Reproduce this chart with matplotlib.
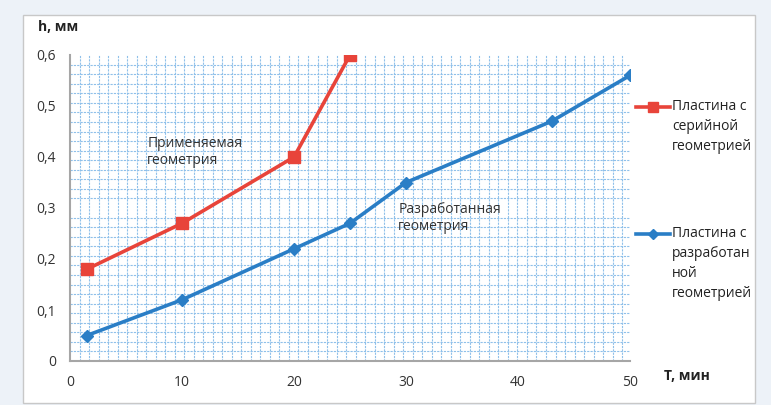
import numpy as np
import matplotlib.pyplot as plt
from matplotlib.patches import Rectangle
from matplotlib.lines import Line2D
from matplotlib.ticker import MultipleLocator, FuncFormatter

plt.rcParams['font.family'] = ['Open Sans', 'DejaVu Sans']

# данные
t_serial = [1.5, 10, 20, 25]
h_serial = [0.18, 0.27, 0.40, 0.60]
t_new = [1.5, 10, 20, 25, 30, 43, 50]
h_new = [0.05, 0.12, 0.22, 0.27, 0.35, 0.47, 0.56]
labels = ["Пластина с\nсерийной\nгеометрией", "Пластина с\nразработан\nной\nгеометрией"]

red = '#e8443a'
blue = '#2a7ec6'

fig = plt.figure(figsize=(7.71, 4.05), dpi=100)
fig.patch.set_facecolor('#edf2f8')
fig.add_artist(Rectangle((23 / 771, 2 / 405), 732 / 771, 388 / 405, transform=fig.transFigure,
                         facecolor='white', edgecolor='#c8c8c8', lw=1, zorder=0))

ax = fig.add_axes([70 / 771, 44 / 405, 560 / 771, 306 / 405])
ax.set_facecolor('white')

ax.plot(t_serial, h_serial, color=red, lw=2.6, marker='s', ms=8, zorder=5)
ax.plot(t_new, h_new, color=blue, lw=2.6, marker='D', ms=6.5, zorder=5)

ax.set_xlim(0, 50)
ax.set_ylim(0, 0.6)
ax.xaxis.set_major_locator(MultipleLocator(10))
ax.xaxis.set_minor_locator(MultipleLocator(0.85))
ax.yaxis.set_major_locator(MultipleLocator(0.1))
ax.yaxis.set_minor_locator(MultipleLocator(0.6 / 32))
ax.yaxis.set_major_formatter(FuncFormatter(lambda v, p: ('%g' % round(v, 2)).replace('.', ',')))
# миллиметровка
ax.grid(which='minor', color='#8fc0ea', lw=0.8, ls=(0, (2, 1)))
ax.set_axisbelow(True)
ax.tick_params(which='both', length=0, labelsize=10, colors='#333333')
ax.tick_params(axis='x', pad=10)
ax.tick_params(axis='y', pad=10)
for s in ['top', 'right']:
    ax.spines[s].set_visible(False)
for s in ['left', 'bottom']:
    ax.spines[s].set_color('#a6a6a6')
    ax.spines[s].set_linewidth(1.5)

fig.text(38 / 771, 1 - 27 / 405, 'h, мм', fontsize=10, fontweight='bold', va='center', color='#222222')
fig.text(664 / 771, 1 - 376 / 405, 'T, мин', fontsize=10, fontweight='bold', va='center', color='#222222')

ax.text(6.9, 0.41, 'Применяемая\nгеометрия', fontsize=10, color='#333333', va='center', linespacing=1.2)
ax.text(29.3, 0.28, 'Разработанная\nгеометрия', fontsize=10, color='#333333', va='center', linespacing=1.2)

# легенда
for y0, col, mk, ms, lab in [(107, red, 's', 7, labels[0]), (234, blue, 'D', 5.5, labels[1])]:
    yf = 1 - y0 / 405
    fig.add_artist(Line2D([636 / 771, 670 / 771], [yf, yf], color=col, lw=2.6,
                          transform=fig.transFigure))
    fig.add_artist(Line2D([653 / 771], [yf], color=col, marker=mk, ms=ms,
                          transform=fig.transFigure))
    fig.text(672 / 771, yf + 8 / 405, lab, fontsize=10, va='top', color='#222222', linespacing=1.45)

fig.savefig('out.png', dpi=100, facecolor=fig.get_facecolor())
